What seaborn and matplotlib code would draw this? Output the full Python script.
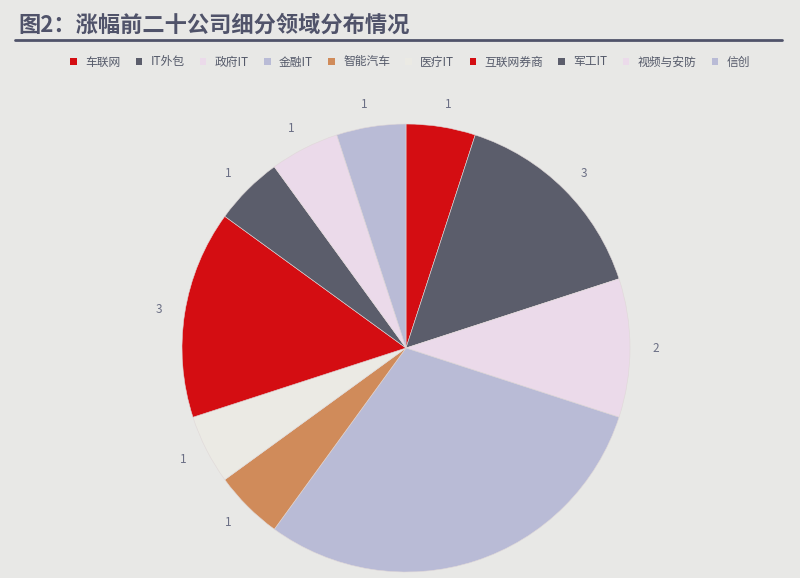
import matplotlib
matplotlib.use("Agg")
import matplotlib.pyplot as plt
import seaborn as sns
from matplotlib.lines import Line2D
from matplotlib.patches import Patch

categories = ["车联网", "IT外包", "政府IT", "金融IT", "智能汽车", "医疗IT",
              "互联网券商", "军工IT", "视频与安防", "信创"]
values = [1, 3, 2, 6, 1, 1, 3, 1, 1, 1]
hex_colors = ["#d40d12", "#5b5d6b", "#ebdaea", "#b9bbd6", "#d08b5a", "#ebeae4",
              "#d40d12", "#5b5d6b", "#ebdaea", "#b9bbd6"]

sns.set_theme(style="white")
plt.rcParams['font.family'] = ['Noto Sans CJK SC', 'DejaVu Sans']
colors = sns.color_palette(hex_colors)

bg = "#e8e8e6"
fig = plt.figure(figsize=(8, 5.78), dpi=100, facecolor=bg)

W, H = 800, 578
cx, cy, R = 406, 348, 224
half = R * 1.25
ax = fig.add_axes([(cx - half) / W, (H - cy - half) / H, 2 * half / W, 2 * half / H])
ax.set_facecolor(bg)

wedges, texts = ax.pie(values, colors=colors, startangle=90, counterclock=False,
                       labels=[str(v) for v in values], labeldistance=1.1,
                       wedgeprops=dict(linewidth=0.4, edgecolor="#e0d8d8"),
                       textprops=dict(fontsize=8.5, color="#6b6f85"))
ax.set_xlim(-1.25, 1.25)
ax.set_ylim(-1.25, 1.25)
ax.set_aspect('equal')
ax.axis('off')

# the label that falls below the figure's edge is not shown in the reference
fig.canvas.draw()
for t in texts:
    x, y = t.get_position()
    px, py = ax.transData.transform((x, y))
    if py < 8:
        t.set_visible(False)

# title
fig.text(18 / W, 1 - 25 / H, "图2：涨幅前二十公司细分领域分布情况", fontsize=16,
         fontweight='bold', color="#50536a", va='center', ha='left')
fig.add_artist(Line2D([15 / W, 782 / W], [1 - 40 / H, 1 - 40 / H],
                      color="#50536a", linewidth=2, transform=fig.transFigure))

handles = [Patch(facecolor=c, edgecolor='none') for c in colors]
fig.legend(handles, categories, loc='center', bbox_to_anchor=(410 / W, 1 - 62 / H),
           ncol=10, frameon=False, fontsize=8.5, handlelength=0.55, handleheight=0.55,
           handletextpad=0.7, columnspacing=1.3, labelcolor="#555a6a")

fig.savefig("out.png", dpi=100, facecolor=bg)
